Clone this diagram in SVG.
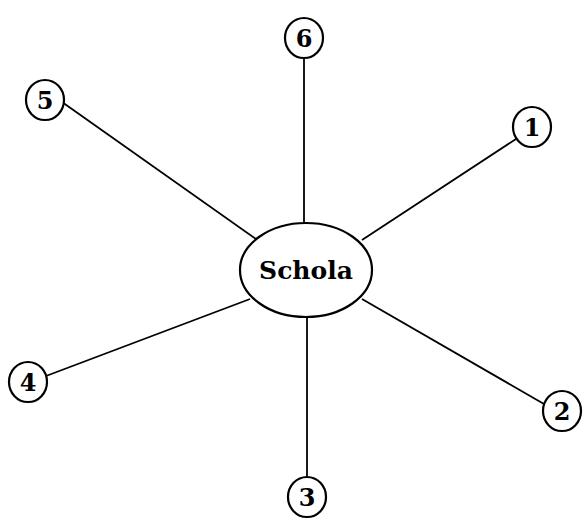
<svg xmlns="http://www.w3.org/2000/svg" width="584" height="528" viewBox="0 0 584 528">
<style>
.n{fill:#fff;stroke:#000;stroke-width:2.2}
.t{font-family:"DejaVu Serif","Liberation Serif",serif;font-weight:bold;font-size:24px;text-anchor:middle;fill:#000}
.c line{stroke:#000;stroke-width:1.8}
</style>
<rect width="584" height="528" fill="#fff"/>
<g class="c" id="connectors">
<line x1="62" y1="102" x2="256" y2="239"/>
<line x1="304" y1="58" x2="304" y2="223"/>
<line x1="516" y1="139" x2="362" y2="240"/>
<line x1="544" y1="404" x2="362" y2="299"/>
<line x1="307" y1="317" x2="307" y2="477"/>
<line x1="46" y1="376" x2="250" y2="299"/>
</g>
<g id="center"><ellipse class="n" cx="306" cy="270" rx="66" ry="47"/><text class="t" x="306" y="279" style="font-size:25px">Schola</text></g>
<g id="n1"><ellipse class="n" cx="532" cy="127" rx="19" ry="20"/><text class="t" x="532" y="136">1</text></g>
<g id="n2"><ellipse class="n" cx="562" cy="411" rx="19" ry="20"/><text class="t" x="562" y="420">2</text></g>
<g id="n3"><ellipse class="n" cx="307" cy="497" rx="19" ry="20"/><text class="t" x="307" y="506">3</text></g>
<g id="n4"><ellipse class="n" cx="28" cy="382" rx="19" ry="20"/><text class="t" x="28" y="391">4</text></g>
<g id="n5"><ellipse class="n" cx="45" cy="100" rx="19" ry="20"/><text class="t" x="45" y="109">5</text></g>
<g id="n6"><ellipse class="n" cx="304" cy="38" rx="19" ry="20"/><text class="t" x="304" y="47">6</text></g>
</svg>
